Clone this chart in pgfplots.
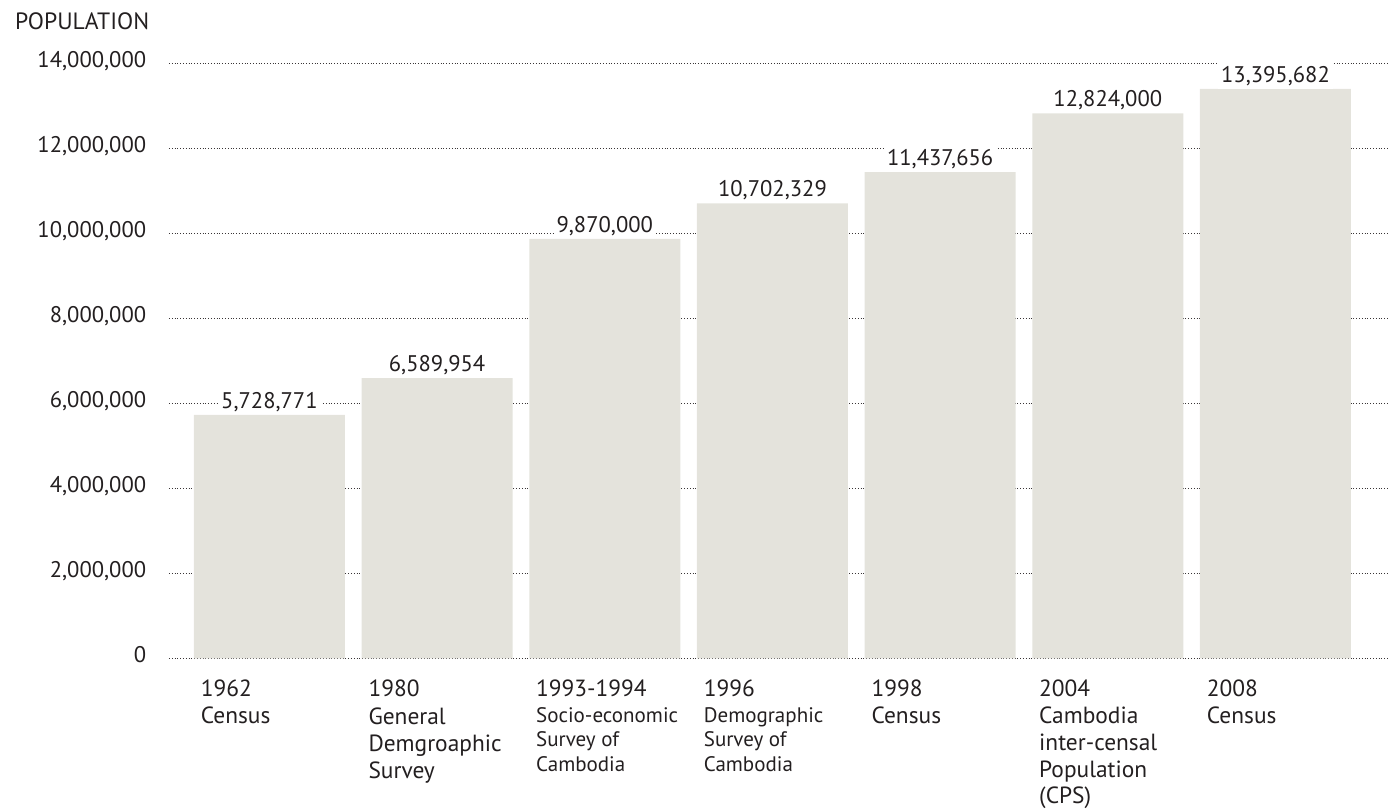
\documentclass[border=0pt]{standalone}
\usepackage{pgfplots}
\pgfplotsset{compat=1.18}
\usepackage{fontspec}
\setmainfont{PT Sans}
\definecolor{barc}{HTML}{E4E3DC}
\definecolor{txt}{HTML}{231F20}
\newcommand\subf{\fontsize{10.5}{12.5}\selectfont}
\begin{document}
\begin{tikzpicture}[x=1pt,y=1pt]
\useasboundingbox (0,0) rectangle (697,405);
\node[anchor=base east, inner sep=0pt, text=txt, font=\fontsize{11.8}{13}\selectfont] at (74.8,390) {POPULATION};
\begin{axis}[
  at={(84.5pt,75.85pt)}, anchor=south west,
  scale only axis, width=609.5pt, height=297.5pt,
  xmin=-0.599, xmax=6.671, ymin=0, ymax=14000000,
  axis line style={draw=none}, tick style={draw=none},
  ytick={0,2000000,4000000,6000000,8000000,10000000,12000000,14000000},
  ymajorgrids, grid style={densely dotted, line width=0.55pt, color=txt!90},
  xtick={0,1,2,3,4,5,6},
  xticklabels={
    {1962\\Census},
    {1980\\General\\Demgroaphic\\Survey},
    {1993-1994\\[-0.8pt]\subf Socio-economic\\[-1.5pt]\subf Survey of\\[-1.5pt]\subf Cambodia},
    {1996\\[-0.8pt]\subf Demographic\\[-1.5pt]\subf Survey of\\[-1.5pt]\subf Cambodia},
    {1998\\Census},
    {2004\\[-0.3pt]Cambodia\\[-0.3pt]inter-censal\\[-0.3pt]Population\\[-0.6pt](CPS)},
    {2008\\Census}},
  xticklabel style={anchor=north west, inner sep=0pt, xshift=-34.5pt, yshift=-6.3pt, align=left, font=\fontsize{11.7}{13.75}\selectfont, text=txt},
  yticklabel style={anchor=base east, inner sep=0pt, xshift=-11.2pt, yshift=-2.2pt, font=\fontsize{11.3}{14}\selectfont, text=txt},
  scaled y ticks=false,
  /pgf/number format/fixed,
  /pgf/number format/precision=0,
  /pgf/number format/1000 sep={,},
  /pgf/number format/assume math mode=true,
  ybar, bar width=75.5pt, bar shift=0pt,
  nodes near coords,
  nodes near coords style={anchor=south, fill=white, inner sep=1.5pt, font=\fontsize{11.3}{14}\selectfont, text=txt},
]
\addplot[fill=barc, draw=none] coordinates {
  (0,5728771) (1,6589954) (2,9870000) (3,10702329) (4,11437656) (5,12824000) (6,13395682)};
\end{axis}
\end{tikzpicture}
\end{document}
